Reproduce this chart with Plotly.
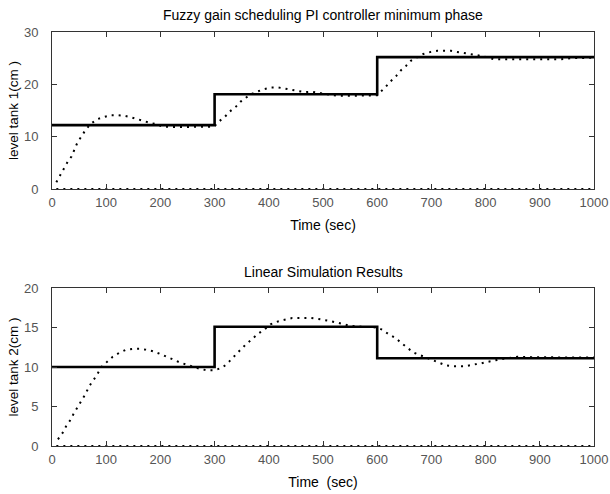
import plotly.graph_objects as go
from plotly.subplots import make_subplots

# ---- data ----
ref_t = [0, 300, 600, 1000]
ref_tank1 = [12.2, 18.1, 25.2, 25.2]
ref_tank2 = [10.0, 15.1, 11.1, 11.1]

t_tank1 = [8, 15, 22, 29, 36, 42, 47, 54, 62, 72, 85, 97, 109, 122, 133, 146, 158, 170, 182, 192,
           204, 230, 260, 290, 300,
           308, 319, 328, 339, 348, 357, 367, 378, 392, 405, 417, 429, 441, 455, 466, 478, 490, 502,
           515, 527, 550, 570, 590, 600,
           604, 613, 624, 635, 644, 653, 662, 673, 685, 699, 711, 724, 736, 747, 759, 773, 784, 794,
           816, 860, 900, 939, 960, 1000]
y_tank1 = [1.3, 2.6, 3.9, 5.2, 6.2, 7.5, 8.9, 10.0, 11.3, 12.5, 13.4, 13.8, 14.1, 14.1, 14.0, 13.7, 13.3, 12.9, 12.6, 12.4,
           11.9, 11.85, 11.85, 11.9, 12.0,
           12.9, 13.8, 14.8, 15.7, 16.7, 17.4, 18.1, 18.6, 19.1, 19.4, 19.4, 19.2, 19.0, 18.8, 18.5, 18.6, 18.4, 18.3,
           18.0, 17.8, 17.8, 17.8, 17.8, 17.9,
           18.4, 19.2, 20.5, 21.6, 22.7, 23.5, 24.5, 25.2, 25.8, 26.2, 26.4, 26.4, 26.4, 26.2, 26.0, 25.8, 25.6, 25.4,
           24.8, 24.8, 24.8, 24.8, 25.0, 25.1]

t_tank2 = [11, 19, 26, 35, 40, 48, 54, 62, 68, 75, 83, 91, 100, 112, 124, 137, 149, 161, 173, 186,
           198, 210, 222, 235, 247, 259, 271, 284, 293, 300,
           305, 316, 327, 339, 348, 357, 369, 380, 391, 403, 418, 430, 443, 455, 466, 478, 490, 502,
           515, 527, 539, 551, 570, 588, 600,
           610, 620, 633, 645, 656, 668, 679, 692, 704, 716, 727, 739, 751, 764, 776, 788, 800, 813,
           825, 837, 849, 859, 884, 920, 960, 1000]
y_tank2 = [0.85, 1.6, 2.5, 3.4, 4.1, 5.0, 5.8, 6.6, 7.5, 8.2, 9.0, 10.0, 10.6, 11.3, 11.8, 12.2, 12.3, 12.3, 12.2, 12.0,
           11.7, 11.4, 11.0, 10.6, 10.3, 10.0, 9.8, 9.6, 9.6, 9.6,
           9.7, 10.0, 10.7, 11.6, 12.2, 12.8, 13.5, 14.2, 14.7, 15.4, 15.8, 16.0, 16.2, 16.2, 16.2, 16.2, 16.1, 16.0,
           15.8, 15.6, 15.4, 15.2, 15.1, 15.0, 15.0,
           14.7, 14.2, 13.7, 13.0, 12.4, 11.8, 11.5, 11.1, 10.8, 10.4, 10.2, 10.1, 10.1, 10.1, 10.3, 10.4, 10.6, 10.8,
           10.9, 11.1, 11.2, 11.3, 11.25, 11.2, 11.2, 11.2]

zero_t = [8, 1000]
zero_y = [0, 0]

titles = ["Fuzzy gain scheduling PI controller minimum phase", "Linear Simulation Results"]
ylabels = ["level tank 1(cm )", "level tank 2(cm )"]
xlabels = ["Time (sec)", "Time  (sec)"]
x_ticks = [0, 100, 200, 300, 400, 500, 600, 700, 800, 900, 1000]
y_ticks = [[0, 10, 20, 30], [0, 5, 10, 15, 20]]
y_ranges = [[0, 30], [0, 20]]

assert len(t_tank1) == len(y_tank1)
assert len(t_tank2) == len(y_tank2)

FONT = "Arial, Liberation Sans, sans-serif"
DOT = "2px,5px"

fig = make_subplots(rows=2, cols=1)

series = [(ref_tank1, t_tank1, y_tank1), (ref_tank2, t_tank2, y_tank2)]
for i, (ref, tt, yy) in enumerate(series, start=1):
    fig.add_trace(go.Scatter(x=zero_t, y=zero_y, mode="lines",
                             line=dict(color="black", width=2, dash=DOT),
                             showlegend=False), row=i, col=1)
    fig.add_trace(go.Scatter(x=tt, y=yy, mode="lines",
                             line=dict(color="black", width=2, dash=DOT),
                             showlegend=False), row=i, col=1)
    fig.add_trace(go.Scatter(x=ref_t, y=ref, mode="lines", line_shape="hv",
                             line=dict(color="black", width=2.6),
                             showlegend=False), row=i, col=1)

axis_common = dict(showgrid=False, zeroline=False, showline=True, linecolor="#333333",
                   linewidth=1, mirror="ticks", ticks="inside", ticklen=5, automargin=False,
                   tickcolor="#333333", tickfont=dict(family=FONT, size=13, color="#555555"))

domains = [[0.6208, 1.0], [0.0, 0.3816]]
for i in range(2):
    xa = "xaxis" if i == 0 else "xaxis2"
    ya = "yaxis" if i == 0 else "yaxis2"
    fig.update_layout({
        xa: dict(axis_common, range=[0, 1000], tickvals=x_ticks, ticklabeloverflow="allow",
                 ticklabelstandoff=1,
                 title=dict(text=xlabels[i], font=dict(family=FONT, size=14, color="black"), standoff=11)),
        ya: dict(axis_common, range=y_ranges[i], tickvals=y_ticks[i], domain=domains[i],
                 ticklabelstandoff=10,
                 title=dict(text=ylabels[i], font=dict(family=FONT, size=13.5, color="black"), standoff=2)),
    })

# subplot titles
title_y = [15, 272]
for i in range(2):
    fig.add_annotation(text=titles[i], xref="paper", x=0.5, yref="paper",
                       y=(494 - 48 - title_y[i]) / 414.0, yanchor="middle",
                       showarrow=False, font=dict(family=FONT, size=14, color="black"))

fig.update_layout(width=610, height=494, margin=dict(l=52, r=16, t=32, b=48),
                  plot_bgcolor="white", paper_bgcolor="white")

fig.write_html("out.html")
